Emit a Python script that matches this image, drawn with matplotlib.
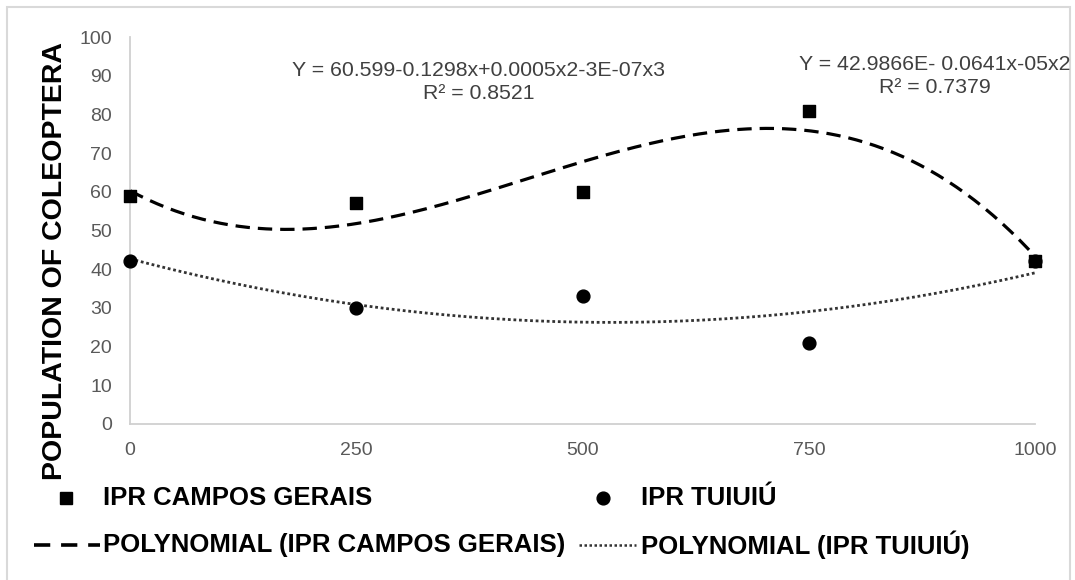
import numpy as np
import matplotlib.pyplot as plt
from matplotlib.lines import Line2D
from matplotlib.patches import Rectangle

doses = [0, 250, 500, 750, 1000]
campos_gerais = [59, 57, 60, 81, 42]
tuiuiu = [42, 30, 33, 21, 42]

eq_campos = "Y = 60.599-0.1298x+0.0005x2-3E-07x3\nR² = 0.8521"
eq_tuiuiu = "Y = 42.9866E- 0.0641x-05x2\nR² = 0.7379"

plt.rcParams['font.family'] = ['Liberation Sans', 'DejaVu Sans']

fig = plt.figure(figsize=(10.75, 5.8), dpi=100)
fig.patches.append(Rectangle((0.0065, -0.01), 0.989, 0.998, transform=fig.transFigure,
                             fill=False, edgecolor='#d9d9d9', linewidth=1.5))
ax = fig.add_axes([0.121, 0.269, 0.842, 0.667])

# trend lines fitted from the data (cubic and quadratic, as in the chart)
xs = np.linspace(0, 1000, 300)
pc = np.polyfit(doses, campos_gerais, 3)
pt = np.polyfit(doses, tuiuiu, 2)
ax.plot(xs, np.polyval(pc, xs), color='black', linestyle=(0, (4.5, 2.5)), linewidth=2.3, zorder=2)
ax.plot(xs, np.polyval(pt, xs), color='#333333', linestyle=(0, (1, 1)), linewidth=2.0, zorder=2)

ax.scatter(doses, tuiuiu, marker='o', s=85, color='black', zorder=3, clip_on=False)
ax.scatter(doses, campos_gerais, marker='s', s=75, color='black', zorder=4, clip_on=False)

ax.set_xlim(0, 1000)
ax.set_ylim(0, 100)
ax.set_xticks(doses)
ax.set_yticks(range(0, 101, 10))
ax.tick_params(length=0, labelsize=14, colors='#595959')
ax.tick_params(axis='y', pad=13)
ax.tick_params(axis='x', pad=13)
for s in ['top', 'right']:
    ax.spines[s].set_visible(False)
for s in ['left', 'bottom']:
    ax.spines[s].set_color('#d0d0d0')
    ax.spines[s].set_linewidth(1.3)

ax.set_ylabel("POPULATION OF COLEOPTERA", fontsize=20.5, fontweight='bold')
ax.yaxis.set_label_coords(-0.069, 0.42)

fig.text(479 / 1075, 1 - 82 / 580, eq_campos, ha='center', va='center', fontsize=15.3,
         color='#404040', linespacing=1.3)
fig.text(935 / 1075, 1 - 76 / 580, eq_tuiuiu, ha='center', va='center', fontsize=15.3,
         color='#404040', linespacing=1.3)

# legend, drawn by hand in figure coordinates
leg_font = dict(fontsize=18.5, fontweight='bold', color='black', va='center')
r1 = 1 - 498 / 580
r2 = 1 - 545 / 580
fig.add_artist(Line2D([66 / 1075], [r1], marker='s', markersize=8.6, color='black',
                      linestyle='none', transform=fig.transFigure))
fig.text(103 / 1075, r1, "IPR CAMPOS GERAIS", **leg_font)
fig.add_artist(Line2D([603 / 1075], [r1], marker='o', markersize=9.2, color='black',
                      linestyle='none', transform=fig.transFigure))
fig.text(641 / 1075, r1, "IPR TUIUIÚ", **leg_font)
fig.add_artist(Line2D([34 / 1075, 100 / 1075], [r2, r2], color='black',
                      linestyle=(0, (4.5, 3)), linewidth=2.6, transform=fig.transFigure))
fig.text(103 / 1075, r2, "POLYNOMIAL (IPR CAMPOS GERAIS)", **leg_font)
fig.add_artist(Line2D([579 / 1075, 636 / 1075], [r2, r2], color='#333333',
                      linestyle=(0, (1, 1)), linewidth=1.8, transform=fig.transFigure))
fig.text(641 / 1075, r2, "POLYNOMIAL (IPR TUIUIÚ)", **leg_font)

fig.savefig("out.png", dpi=100)
